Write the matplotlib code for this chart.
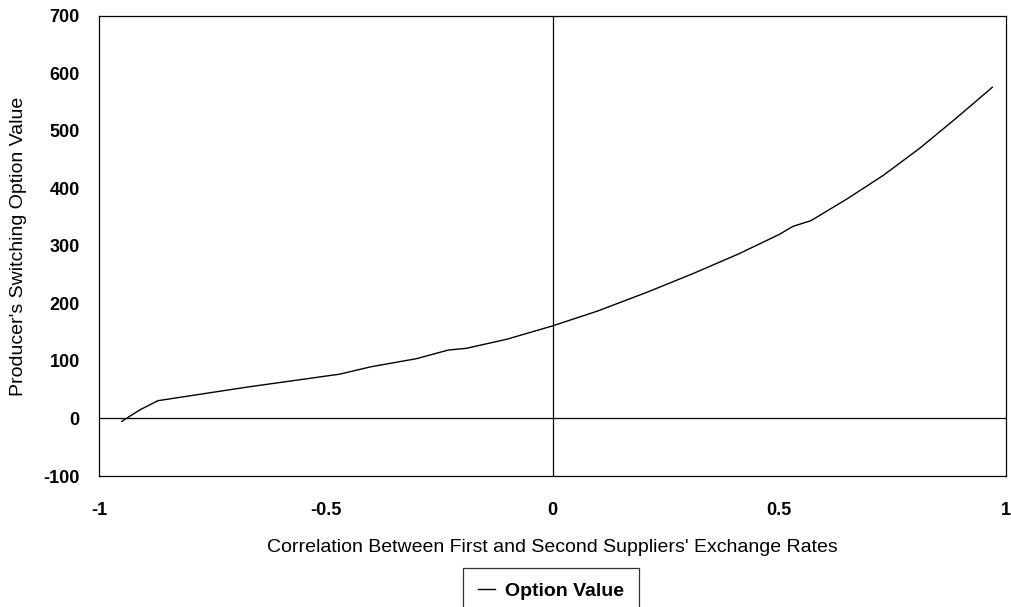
import matplotlib
matplotlib.use("Agg")
import matplotlib.pyplot as plt

# correlation between the two suppliers' exchange rates
correlation = [-0.95, -0.91, -0.87, -0.77, -0.67, -0.57, -0.47, -0.40, -0.30,
               -0.23, -0.19, -0.10, 0.0, 0.10, 0.21, 0.31, 0.41, 0.50,
               0.53, 0.57, 0.65, 0.73, 0.81, 0.89, 0.97]
option_value = [-5, 15, 31, 43, 55, 66, 77, 90, 104,
                119, 122, 138, 161, 187, 220, 252, 286, 320,
                334, 344, 382, 423, 470, 522, 576]

x_ticks = [-1, -0.5, 0, 0.5, 1]
x_tick_labels = ["-1", "-0.5", "0", "0.5", "1"]
y_ticks = [-100, 0, 100, 200, 300, 400, 500, 600, 700]

plt.rcParams["font.family"] = ["Liberation Sans", "DejaVu Sans"]
plt.rcParams["axes.unicode_minus"] = False

fig = plt.figure(figsize=(10.11, 6.07), dpi=100)
ax = fig.add_axes([0.098, 0.2158, 0.897, 0.758])

ax.plot(correlation, option_value, color="black", lw=1.0, label="Option Value")
ax.axhline(0, color="black", lw=0.9)
ax.axvline(0, color="black", lw=0.9)

ax.set_xlim(-1, 1)
ax.set_ylim(-100, 700)
ax.set_xticks(x_ticks)
ax.set_xticklabels(x_tick_labels)
ax.set_yticks(y_ticks)
ax.tick_params(length=0, labelsize=13)
ax.tick_params(axis="x", pad=19)
ax.tick_params(axis="y", pad=14)
for lbl in ax.get_xticklabels() + ax.get_yticklabels():
    lbl.set_fontweight("bold")
for s in ax.spines.values():
    s.set_linewidth(0.9)

ax.set_xlabel("Correlation Between First and Second Suppliers' Exchange Rates",
              fontsize=14)
ax.set_ylabel("Producer's Switching Option Value", fontsize=14)
ax.xaxis.set_label_coords(0.5, -0.137)
ax.yaxis.set_label_coords(-0.079, 0.5)

leg = fig.legend(loc="upper center", bbox_to_anchor=(0.545, 1 - 568 / 607),
                 frameon=True, fancybox=False, edgecolor="black",
                 handlelength=0.9, handletextpad=0.5, borderpad=0.75,
                 borderaxespad=0, prop={"weight": "bold", "size": 14})
leg.get_frame().set_linewidth(0.9)

fig.savefig("out.png", dpi=100)
